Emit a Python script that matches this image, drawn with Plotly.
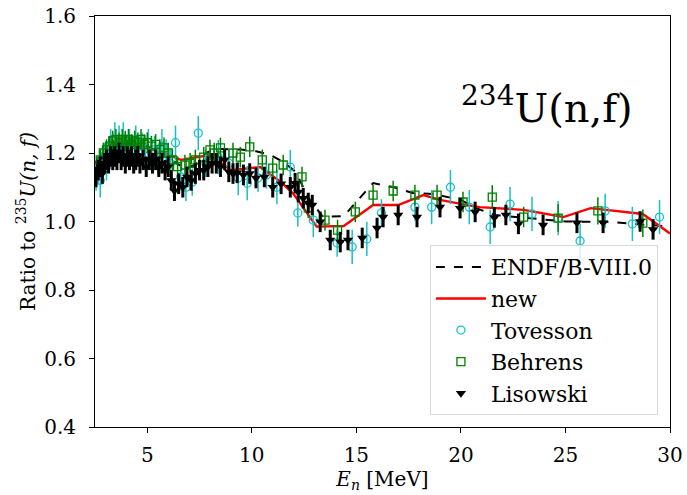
import plotly.graph_objects as go

# ENDF/B-VIII.0 ratio curve
endf_E = [2.5, 3.0, 3.5, 4.0, 5.0, 5.5, 6.0, 6.4, 6.8, 7.3, 7.8, 8.2, 8.5, 9.5, 10.2, 10.9, 11.5, 12.1, 12.7, 13.4, 14.4, 15.8, 16.8, 17.7, 18.7, 20.0, 20.6, 21.6, 23.2, 25.0, 27.0, 29.0, 30.0]
endf_R = [1.17, 1.20, 1.22, 1.225, 1.22, 1.21, 1.19, 1.17, 1.155, 1.165, 1.20, 1.21, 1.212, 1.21, 1.205, 1.194, 1.174, 1.145, 1.07, 1.013, 1.016, 1.112, 1.10, 1.083, 1.08, 1.063, 1.042, 1.019, 1.01, 1.0, 0.999, 0.99, 0.985]

# new evaluation
new_E = [2.5, 3.0, 3.4, 4.5, 5.5, 6.0, 6.6, 8.0, 9.0, 10.4, 11.4, 12.0, 13.1, 14.4, 15.8, 17.0, 18.2, 19.0, 20.3, 20.9, 23.0, 24.9, 26.2, 28.7, 30.0]
new_R = [1.17, 1.21, 1.235, 1.225, 1.205, 1.195, 1.18, 1.194, 1.15, 1.159, 1.115, 1.08, 0.985, 0.987, 1.048, 1.048, 1.077, 1.063, 1.048, 1.042, 1.034, 1.013, 1.039, 1.022, 0.965]

# Tovesson
tov_E = [2.55, 2.65, 2.75, 2.85, 2.95, 3.05, 3.15, 3.25, 3.35, 3.45, 3.55, 3.65, 3.75, 3.85, 3.95, 4.05, 4.15, 4.3, 4.45, 4.6, 4.75, 4.9, 5.05, 5.2, 5.35, 5.5, 5.7, 5.9, 6.1, 6.35, 6.6, 6.85, 7.15, 7.44, 7.8, 8.4, 8.9, 9.35, 9.78, 10.3, 10.7, 11.2, 11.84, 12.2, 12.94, 14.08, 14.8, 15.5, 16.2, 17.8, 18.6, 19.5, 20.4, 21.4, 22.35, 23.4, 24.65, 25.7, 26.9, 28.2, 29.5]
tov_R = [1.13, 1.15, 1.12, 1.17, 1.19, 1.16, 1.20, 1.22, 1.19, 1.24, 1.21, 1.23, 1.20, 1.24, 1.22, 1.20, 1.23, 1.21, 1.24, 1.20, 1.22, 1.19, 1.23, 1.20, 1.21, 1.18, 1.22, 1.20, 1.17, 1.23, 1.13, 1.10, 1.115, 1.258, 1.17, 1.188, 1.17, 1.127, 1.112, 1.127, 1.136, 1.10, 1.159, 1.025, 1.004, 0.937, 0.926, 0.949, 1.025, 1.042, 1.042, 1.10, 1.042, 0.984, 1.051, 1.022, 1.01, 0.943, 1.031, 0.993, 1.013]
tov_err = [0.04, 0.04, 0.05, 0.04, 0.04, 0.04, 0.04, 0.05, 0.04, 0.05, 0.04, 0.05, 0.04, 0.05, 0.04, 0.04, 0.04, 0.04, 0.04, 0.04, 0.04, 0.04, 0.04, 0.04, 0.04, 0.04, 0.05, 0.04, 0.04, 0.05, 0.04, 0.04, 0.04, 0.05, 0.04, 0.05, 0.04, 0.05, 0.05, 0.04, 0.04, 0.05, 0.05, 0.04, 0.05, 0.04, 0.05, 0.05, 0.04, 0.04, 0.05, 0.05, 0.05, 0.05, 0.05, 0.05, 0.05, 0.05, 0.05, 0.05, 0.05]

# Behrens
beh_E = [2.6, 2.75, 2.9, 3.05, 3.2, 3.35, 3.5, 3.65, 3.8, 3.95, 4.1, 4.25, 4.4, 4.55, 4.7, 4.85, 5.0, 5.2, 5.4, 5.6, 5.8, 6.0, 6.2, 6.45, 6.8, 7.05, 7.3, 7.7, 8.0, 8.2, 8.5, 9.1, 9.45, 9.9, 10.5, 11.0, 11.5, 12.4, 12.7, 13.5, 14.1, 14.95, 15.8, 16.76, 17.8, 18.86, 20.1, 21.5, 23.0, 24.65, 26.55, 28.7]
beh_R = [1.16, 1.18, 1.20, 1.21, 1.22, 1.235, 1.24, 1.23, 1.24, 1.235, 1.24, 1.225, 1.235, 1.23, 1.24, 1.225, 1.23, 1.22, 1.225, 1.21, 1.215, 1.20, 1.18, 1.16, 1.165, 1.17, 1.18, 1.188, 1.209, 1.20, 1.215, 1.20, 1.188, 1.218, 1.18, 1.156, 1.165, 1.13, 1.04, 1.004, 0.975, 1.028, 1.077, 1.089, 1.077, 1.077, 1.057, 1.071, 1.013, 1.01, 1.031, 0.995]
beh_err = [0.03] * 47 + [0.035, 0.03, 0.04, 0.04, 0.04]

# Lisowski
lis_E = [2.55, 2.65, 2.75, 2.85, 2.95, 3.05, 3.15, 3.25, 3.35, 3.45, 3.55, 3.65, 3.75, 3.85, 3.95, 4.05, 4.15, 4.25, 4.35, 4.45, 4.55, 4.65, 4.8, 4.95, 5.1, 5.25, 5.4, 5.55, 5.7, 5.85, 6.0, 6.15, 6.3, 6.5, 6.7, 6.9, 7.1, 7.3, 7.5, 7.7, 7.9, 8.1, 8.3, 8.5, 8.7, 8.9, 9.1, 9.3, 9.6, 9.9, 10.2, 10.6, 11.0, 11.4, 11.84, 12.07, 12.22, 12.46, 12.7, 12.89, 13.27, 13.75, 14.23, 14.6, 15.28, 15.99, 16.28, 17.0, 17.9, 19.0, 19.96, 20.68, 21.6, 22.15, 22.75, 23.93, 25.55, 26.8, 28.57, 29.19]
lis_R = [1.13, 1.15, 1.16, 1.14, 1.17, 1.18, 1.17, 1.19, 1.18, 1.19, 1.18, 1.20, 1.18, 1.19, 1.17, 1.19, 1.18, 1.19, 1.17, 1.18, 1.19, 1.17, 1.18, 1.16, 1.18, 1.17, 1.18, 1.16, 1.17, 1.15, 1.16, 1.12, 1.09, 1.11, 1.10, 1.13, 1.12, 1.14, 1.15, 1.15, 1.16, 1.17, 1.17, 1.16, 1.18, 1.145, 1.14, 1.142, 1.136, 1.14, 1.127, 1.13, 1.10, 1.11, 1.10, 1.112, 1.086, 1.068, 1.054, 1.048, 0.999, 0.946, 0.94, 0.946, 0.952, 0.981, 1.013, 1.019, 1.013, 1.042, 1.039, 1.028, 1.012, 1.019, 0.993, 0.99, 0.996, 0.996, 1.0, 0.977]
lis_err = [0.03] * 80
lis_xerr = [0.05] * 54 + [0.15] * 26

serif = "DejaVu Serif"
cyan = "#17c0c8"

fig = go.Figure()
fig.add_trace(go.Scatter(x=endf_E, y=endf_R, mode="lines", name="ENDF/B-VIII.0",
                         line=dict(color="black", width=2, dash="dash")))
fig.add_trace(go.Scatter(x=new_E, y=new_R, mode="lines", name="new",
                         line=dict(color="red", width=2.4)))
fig.add_trace(go.Scatter(x=tov_E, y=tov_R, mode="markers", name="Tovesson",
                         marker=dict(symbol="circle-open", size=8, color=cyan, line=dict(width=1.3, color=cyan)),
                         error_y=dict(type="data", array=tov_err, color=cyan, thickness=1.5, width=0)))
fig.add_trace(go.Scatter(x=beh_E, y=beh_R, mode="markers", name="Behrens",
                         marker=dict(symbol="square-open", size=8, color="#008000", line=dict(width=1.3, color="#008000")),
                         error_y=dict(type="data", array=beh_err, color="#008000", thickness=1.5, width=0)))
fig.add_trace(go.Scatter(x=lis_E, y=lis_R, mode="markers", name="Lisowski",
                         marker=dict(symbol="triangle-down", size=9, color="black"),
                         error_y=dict(type="data", array=lis_err, color="black", thickness=3, width=0),
                         error_x=dict(type="data", array=lis_xerr, color="black", thickness=2, width=0)))

fig.add_annotation(x=24.12, y=1.34, xref="x", yref="y", showarrow=False,
                   text="<sup>234</sup>U(n,f)", font=dict(family=serif, size=40, color="black"))

axis_common = dict(showline=True, linecolor="black", linewidth=1, mirror=True,
                   ticks="outside", ticklen=5, tickcolor="black", showgrid=False, zeroline=False,
                   automargin=False, ticklabeloverflow="allow",
                   tickfont=dict(family=serif, size=20, color="black"))

fig.update_layout(
    width=687, height=495,
    margin=dict(l=95, r=17, t=16, b=68),
    plot_bgcolor="white", paper_bgcolor="white",
    xaxis=dict(range=[2.5, 30], tickvals=[5, 10, 15, 20, 25, 30], ticklabelstandoff=5,
               title=dict(text="<i>E<sub>n</sub></i> [MeV]", font=dict(family=serif, size=20, color="black"), standoff=1),
               **axis_common),
    yaxis=dict(range=[0.4, 1.6], tickvals=[0.4, 0.6, 0.8, 1.0, 1.2, 1.4, 1.6], tickformat=".1f",
               ticklabelstandoff=9,
               title=dict(text="Ratio to <sup>235</sup><i>U(n, f)</i>", font=dict(family=serif, size=20, color="black"), standoff=3),
               **axis_common),
    legend=dict(x=0.979, y=0.029, xanchor="right", yanchor="bottom",
                bgcolor="rgba(255,255,255,0.8)", bordercolor="#d8d8d8", borderwidth=1,
                font=dict(family=serif, size=22, color="black"), itemwidth=50, tracegroupgap=0),
    showlegend=True,
)

fig.write_html("out.html")
